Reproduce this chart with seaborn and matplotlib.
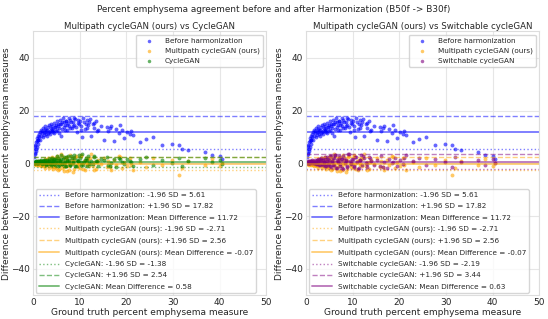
import numpy as np
import pandas as pd
import seaborn as sns
import matplotlib
matplotlib.use("Agg")
import matplotlib.pyplot as plt

# Ground-truth percent emphysema (shared x for every series)
ground_truth = [
    0.2, 0.3, 0.4, 0.5, 0.6, 0.7, 0.8, 0.9, 1.0, 1.1, 1.2, 1.3, 1.5, 1.6, 1.8, 1.9,
    2.1, 2.3, 2.4, 2.6, 2.8, 3.0, 3.1, 3.3, 3.5, 3.6, 3.8, 4.0, 4.2, 4.4, 4.6, 4.8,
    5.0, 5.2, 5.4, 5.6, 5.9, 6.1, 6.3, 6.6, 6.8, 7.0, 7.3, 7.5, 7.8, 8.0, 8.3, 8.5, 8.8, 9.1, 9.4, 9.7,
    10.0, 10.3, 10.6, 10.9, 11.2, 11.5, 11.8, 12.1, 12.4, 12.8, 13.2, 13.6, 14.0, 14.5,
    15.3, 15.8, 16.2, 16.8, 17.3, 17.9, 18.4, 19.0, 19.6, 20.2, 20.8, 21.5,
    22.9, 24.3, 25.7, 27.7, 29.8, 31.4, 31.9, 33.2, 36.9, 38.4, 40.0, 40.5,
    0.35, 0.55, 0.75, 0.95, 1.15, 1.4, 1.7, 2.0, 2.2, 2.5, 2.7, 2.9, 3.2, 3.4, 3.7, 3.9,
    4.1, 4.3, 4.5, 4.7, 4.9, 5.1, 5.3, 5.5, 5.8, 6.0, 6.2, 6.5, 6.7, 6.9, 7.2, 7.4, 7.7,
    7.9, 8.2, 8.6, 8.9, 9.2, 9.6, 9.9, 10.4, 10.8, 11.3, 11.7, 12.3, 13.0, 13.8, 16.5, 18.7, 21.0,
]

diff_before = [
    2.5, 5.5, 3.5, 6.5, 4.8, 8.0, 6.2, 9.5, 7.5, 10.2, 8.8, 11.0, 9.0, 11.8, 10.5, 12.3,
    9.8, 12.0, 10.8, 13.0, 11.2, 12.5, 10.4, 13.8, 12.0, 11.0, 13.5, 12.2, 14.2, 12.8, 11.5, 13.9,
    14.5, 12.5, 15.0, 13.2, 14.8, 10.5, 15.5, 13.8, 14.6, 16.0, 12.8, 15.2, 14.0, 16.3, 13.5, 15.8, 14.5, 16.8, 12.0, 15.4,
    16.0, 14.2, 9.8, 15.5, 13.0, 16.5, 14.5, 15.8, 10.2, 14.8, 13.5, 16.2, 12.5, 14.0,
    9.0, 13.8, 12.2, 14.0, 8.5, 13.0, 11.5, 12.6, 9.5, 12.0, 11.2, 10.8,
    7.9, 9.3, 9.9, 6.8, 7.4, 6.8, 5.5, 5.2, 4.3, 3.3, 2.7, 1.5,
    4.0, 7.0, 5.5, 8.5, 9.0, 10.0, 12.8, 11.5, 13.2, 11.8, 14.0, 12.8, 11.6, 14.5, 12.4, 15.0,
    13.0, 11.8, 15.2, 13.6, 12.2, 16.0, 14.0, 11.6, 16.5, 14.8, 13.0, 17.0, 15.6, 12.5, 16.2, 14.4, 17.2,
    13.2, 15.6, 14.0, 17.0, 13.8, 16.4, 14.8, 12.8, 17.2, 15.0, 13.4, 16.8, 15.2, 12.2, 13.2, 14.4, 12.4,
]

diff_multipath = [
    0.1, -0.2, 0.3, 0.0, -0.4, 0.2, 0.5, -0.3, 0.1, -0.6, 0.4, -0.1, 0.7, -0.5, 0.2, -0.8,
    0.6, -1.0, 0.3, -0.4, 1.1, -0.7, 0.0, 1.4, -1.2, 0.5, -0.2, 1.8, -1.5, 0.8, -0.9, 2.2,
    -1.8, 0.4, 1.5, -2.3, 0.9, -0.6, 2.6, -1.4, 0.2, 1.9, -2.8, 0.7, -1.1, 3.2, -0.3, 1.2, -2.0, 2.4, -0.8, 0.5,
    -1.6, 2.9, -0.4, 1.0, -2.5, 0.3, 1.7, -1.2, 3.6, -0.9, 0.6, -2.1, 1.4, -0.2,
    2.0, -1.5, 0.8, -2.6, 1.3, -0.7, 2.8, -1.9, 0.4, -1.1, 1.9, -2.4,
    0.6, -1.3, 2.2, -0.8, 1.1, -4.5, -1.7, 0.9, -0.5, 1.6, -1.0, 0.3,
    -0.3, 0.2, -0.6, 0.5, -0.2, 0.9, -1.1, 0.4, -0.8, 1.5, -1.6, 0.1, 2.0, -1.9, 0.7, -0.5,
    2.5, -2.2, 1.0, -1.3, 0.3, 2.8, -2.6, 1.2, -0.4, 3.4, -1.7, 0.6, -2.9, 1.8, -0.9, 2.3, -2.4,
    0.2, 1.4, -3.2, 0.8, 2.6, -1.5, -0.1, 3.0, -2.0, 1.1, -0.7, 2.1, -2.7, 0.5, -1.4, 2.4, -0.6,
]

diff_cyclegan = [
    0.3, 0.5, 0.2, 0.6, 0.4, 0.7, 0.1, 0.5, 0.8, 0.3, 0.6, 0.2, 0.9, 0.4, 0.7, 0.0,
    0.8, 0.2, 1.1, 0.4, -0.2, 1.3, 0.6, -0.4, 1.0, 0.3, 1.5, -0.3, 0.9, 0.5, 1.8, -0.6,
    1.2, 0.0, 2.0, -0.8, 0.7, 1.6, -0.3, 2.4, 0.4, -1.0, 1.1, 2.8, 0.2, -0.5, 1.9, 0.6, 3.3, -0.9, 1.4, 0.8,
    2.2, -0.7, 3.5, 0.5, 1.3, -1.2, 2.6, 0.1, 1.0, -0.4, 2.9, 0.7, -1.1, 1.6,
    1.1, 2.5, -0.6, 0.3, 1.8, -1.3, 2.2, 0.5, -0.2, 1.5, 0.9, -0.9,
    1.6, 2.4, -0.8, 1.2, 0.2, 1.9, -1.1, 0.7, 2.1, 0.5, 1.3, -0.2,
    0.5, 0.3, 0.7, 0.1, 0.9, 0.4, 1.2, -0.1, 1.0, 0.6, 1.4, -0.5, 0.8, 1.7, 0.2, -0.7,
    2.1, 0.9, -0.2, 1.5, 0.4, 2.6, -0.9, 1.1, 0.6, 3.0, -0.4, 1.8, 0.3, -1.0, 2.3, 0.7, 1.4,
    -0.6, 2.7, 0.2, 1.9, -1.2, 1.0, 3.1, 0.4, -0.8, 2.0, 1.3, -0.3, 2.4, 0.8, -1.0, 1.6, 0.5,
]

diff_switchable = [
    0.2, 0.6, 0.1, 0.4, 0.8, 0.3, 0.5, 0.0, 0.7, 0.4, 0.9, 0.2, 0.6, 1.0, 0.3, 0.5,
    0.9, -0.3, 1.2, 0.4, 1.6, -0.6, 0.8, 2.0, -0.2, 1.3, 0.5, -0.9, 1.8, 0.2, 2.3, -0.5,
    1.4, -1.2, 2.6, 0.6, -0.7, 1.9, 3.0, -1.6, 0.9, 2.2, -0.4, 1.5, -1.9, 2.8, 0.3, 1.1, -1.0, 3.4, 0.7, -0.3,
    1.7, -1.4, 2.5, 0.4, -2.0, 1.2, 3.1, -0.8, 1.9, 0.2, -1.5, 2.3, 0.8, -0.6,
    1.4, -1.1, 2.7, 0.5, -1.8, 1.6, 0.1, 2.0, -0.9, 1.2, -0.2, 3.0,
    0.9, 2.1, -0.5, 1.5, 0.4, -1.3, 2.4, 0.6, 1.1, -0.7, 1.8, 0.2,
    0.4, 0.7, 0.2, 0.9, 0.5, 1.1, 0.1, 1.4, -0.2, 0.8, 1.7, -0.5, 1.2, 2.1, -0.8, 0.6,
    2.5, -1.1, 1.0, 1.8, -0.3, 2.9, -1.4, 0.7, 2.2, -0.6, 3.2, -1.7, 1.3, 0.4, 2.6, -1.0, 1.6,
    -2.1, 2.0, 0.9, -1.3, 3.5, 0.2, 1.5, -0.9, 2.4, -1.8, 1.1, 2.8, -0.4, 1.9, -1.5, 0.6, 2.2,
]

# Limits of agreement: (lower -1.96 SD, upper +1.96 SD, mean difference)
loa_before = (5.61, 17.82, 11.72)
loa_multipath = (-2.71, 2.56, -0.07)
loa_cyclegan = (-1.38, 2.54, 0.58)
loa_switchable = (-2.19, 3.44, 0.63)

colors = {"Before harmonization": "blue", "Multipath cycleGAN (ours)": "orange",
          "CycleGAN": "green", "Switchable cycleGAN": "purple"}

df = pd.DataFrame({"gt": ground_truth,
                   "Before harmonization": diff_before,
                   "Multipath cycleGAN (ours)": diff_multipath,
                   "CycleGAN": diff_cyclegan,
                   "Switchable cycleGAN": diff_switchable})
loas = {"Before harmonization": loa_before, "Multipath cycleGAN (ours)": loa_multipath,
        "CycleGAN": loa_cyclegan, "Switchable cycleGAN": loa_switchable}

sns.set_style("whitegrid", {"grid.color": "#e6e6e6", "axes.edgecolor": "#dddddd"})
plt.rcParams['font.family'] = ['DejaVu Sans']

fig, axes = plt.subplots(1, 2, figsize=(5.48, 3.19), dpi=100)
fig.subplots_adjust(left=0.060, right=0.984, top=0.902, bottom=0.074, wspace=0.17)

panels = [("Multipath cycleGAN (ours) vs CycleGAN",
           ["Before harmonization", "Multipath cycleGAN (ours)", "CycleGAN"]),
          ("Multipath cycleGAN (ours) vs Switchable cycleGAN",
           ["Before harmonization", "Multipath cycleGAN (ours)", "Switchable cycleGAN"])]

for ax, (title, series) in zip(axes, panels):
    for name in series:
        sns.scatterplot(data=df, x="gt", y=name, color=colors[name], alpha=0.6,
                        s=8, linewidth=0, ax=ax, label=name)
    h_sc, l_sc = ax.get_legend_handles_labels()
    line_handles = []
    for name in series:
        lo, hi, mean = loas[name]
        line_handles.append(ax.axhline(lo, color=colors[name], ls=":", lw=1.0, alpha=0.5,
                                       label=f"{name}: -1.96 SD = {lo:.2f}"))
        line_handles.append(ax.axhline(hi, color=colors[name], ls="--", lw=1.0, alpha=0.5,
                                       label=f"{name}: +1.96 SD = {hi:.2f}"))
        line_handles.append(ax.axhline(mean, color=colors[name], ls="-", lw=1.4, alpha=0.5,
                                       label=f"{name}: Mean Difference = {mean:.2f}"))
    leg1 = ax.legend(h_sc, l_sc, loc="upper right", fontsize=5.2, labelspacing=0.5,
                     markerscale=0.9, handlelength=2.8, borderaxespad=0.5)
    ax.add_artist(leg1)
    ax.legend(handles=line_handles, loc="lower left", fontsize=5.2, labelspacing=0.72,
              handlelength=2.8, borderaxespad=0.4)
    ax.set_xlim(0, 50)
    ax.set_ylim(-50, 50)
    ax.set_xticks([0, 10, 20, 30, 40, 50])
    ax.set_yticks([-40, -20, 0, 20, 40])
    ax.tick_params(labelsize=6.5, length=0, pad=2)
    ax.set_title(title, fontsize=6.2, pad=1.5)
    ax.set_xlabel("Ground truth percent emphysema measure", fontsize=6.5, labelpad=0.5)
    ax.set_ylabel("Difference between percent emphysema measures", fontsize=6.5, labelpad=0.5)

fig.suptitle("Percent emphysema agreement before and after Harmonization (B50f -> B30f)",
             fontsize=6.4, y=0.985)
fig.savefig("out.png", dpi=100)
